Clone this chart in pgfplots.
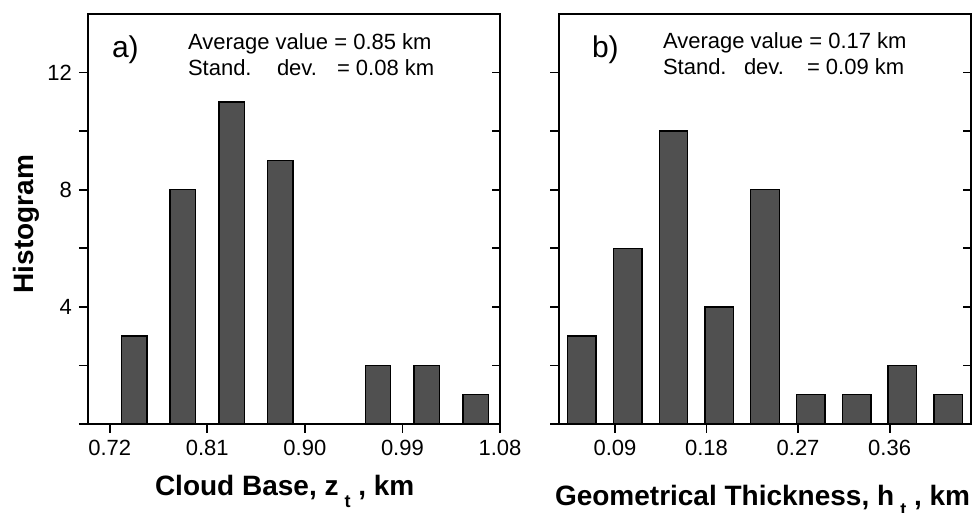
\documentclass[border=0pt]{standalone}
\usepackage{fontspec}
\setmainfont{Liberation Sans}
\usepackage{pgfplots}
\pgfplotsset{compat=1.18}

\definecolor{barfill}{HTML}{505050}

\pgfplotsset{
  histbase/.style={
    scale only axis,
    width=206pt, height=205pt,
    ymin=0, ymax=14,
    axis line style={line width=1pt},
    tick style={line width=0.9pt, black},
    tick label style={font=\fontsize{11}{13}\selectfont},
  },
  % labelled ticks: bottom and left, pointing outwards
  histmain/.style={
    histbase,
    xtick pos=bottom, ytick pos=left,
    tick align=outside,
    major tick length=4.5pt,
    ytick={0,2,4,6,8,10,12},
    yticklabels={,,4,,8,,12},
  },
  % short inner ticks on top/bottom and inner ticks on the right
  histticks/.style={
    histbase,
    xtick=\empty,
    ytick={0,2,4,6,8,10,12}, yticklabels={},
    ytick pos=right,
    tick align=inside,
    major tick length=4pt,
    minor tick length=1.8pt,
  },
  histbars/.style={
    ybar, draw=black, line width=0.7pt, fill=barfill,
  },
}

\begin{document}
\begin{tikzpicture}
\useasboundingbox (0,0) rectangle (489pt,256.5pt);

% (a) cloud base
\begin{axis}[histmain, at={(44pt,44.5pt)}, anchor=south west,
  xmin=0.70, xmax=1.08,
  xtick={0.72,0.81,0.90,0.99,1.08},
  xticklabels={0.72,0.81,0.90,0.99,1.08},
  bar width=0.0235]
  \addplot[histbars] coordinates {
    (0.7425,3) (0.7875,8) (0.8325,11) (0.8775,9)
    (0.9225,0) (0.9675,2) (1.0125,2) (1.0575,1)};
\end{axis}
\begin{axis}[histticks, at={(44pt,44.5pt)}, anchor=south west,
  xmin=0.70, xmax=1.08,
  minor xtick={0.72,0.765,0.81,0.855,0.90,0.945,0.99,1.035,1.08}]
\end{axis}

% (b) geometrical thickness
\begin{axis}[histmain, at={(279.5pt,44.5pt)}, anchor=south west,
  xmin=0.035, xmax=0.44,
  xtick={0.09,0.18,0.27,0.36},
  xticklabels={0.09,0.18,0.27,0.36},
  yticklabels={},
  bar width=0.028]
  \addplot[histbars] coordinates {
    (0.0575,3) (0.1025,6) (0.1475,10) (0.1925,4) (0.2375,8)
    (0.2825,1) (0.3275,1) (0.3725,2) (0.4175,1)};
\end{axis}
\begin{axis}[histticks, at={(279.5pt,44.5pt)}, anchor=south west,
  xmin=0.035, xmax=0.44,
  minor xtick={0.045,0.09,0.135,0.18,0.225,0.27,0.315,0.36,0.405}]
\end{axis}

% titles and annotations (units: 0.5pt, y downwards from the top)
\begin{scope}[x=0.5pt, y=-0.5pt, shift={(0pt,256.5pt)},
  every node/.style={inner sep=0pt, outer sep=0pt}]
  \node[rotate=90, anchor=base] at (33,224)
    {\fontsize{14}{16}\selectfont\bfseries Histogram};
  \node[anchor=base west] at (155,495)
    {\fontsize{14}{16}\selectfont\bfseries Cloud Base, z\hspace{3pt}\raisebox{-6.5pt}{\fontsize{9}{9}\selectfont t} , km};
  \node[anchor=base west] at (555,506)
    {\fontsize{14}{16}\selectfont\bfseries Geometrical Thickness, h\hspace{3pt}\raisebox{-5pt}{\fontsize{9}{9}\selectfont t} , km};

  \node[anchor=base west] at (112,58) {\fontsize{15}{17}\selectfont a)};
  \node[anchor=base west] at (592,58) {\fontsize{15}{17}\selectfont b)};

  \begin{scope}[every node/.append style={font=\fontsize{11}{13}\selectfont}]
    \node[anchor=base west] at (188,50) {Average value = 0.85 km};
    \node[anchor=base west] at (188,76) {Stand.};
    \node[anchor=base west] at (277,76) {dev.};
    \node[anchor=base west] at (337,76) {= 0.08 km};

    \node[anchor=base west] at (663,49) {Average value = 0.17 km};
    \node[anchor=base west] at (663,75) {Stand.};
    \node[anchor=base west] at (744,75) {dev.};
    \node[anchor=base west] at (807,75) {= 0.09 km};
  \end{scope}
\end{scope}
\end{tikzpicture}
\end{document}
